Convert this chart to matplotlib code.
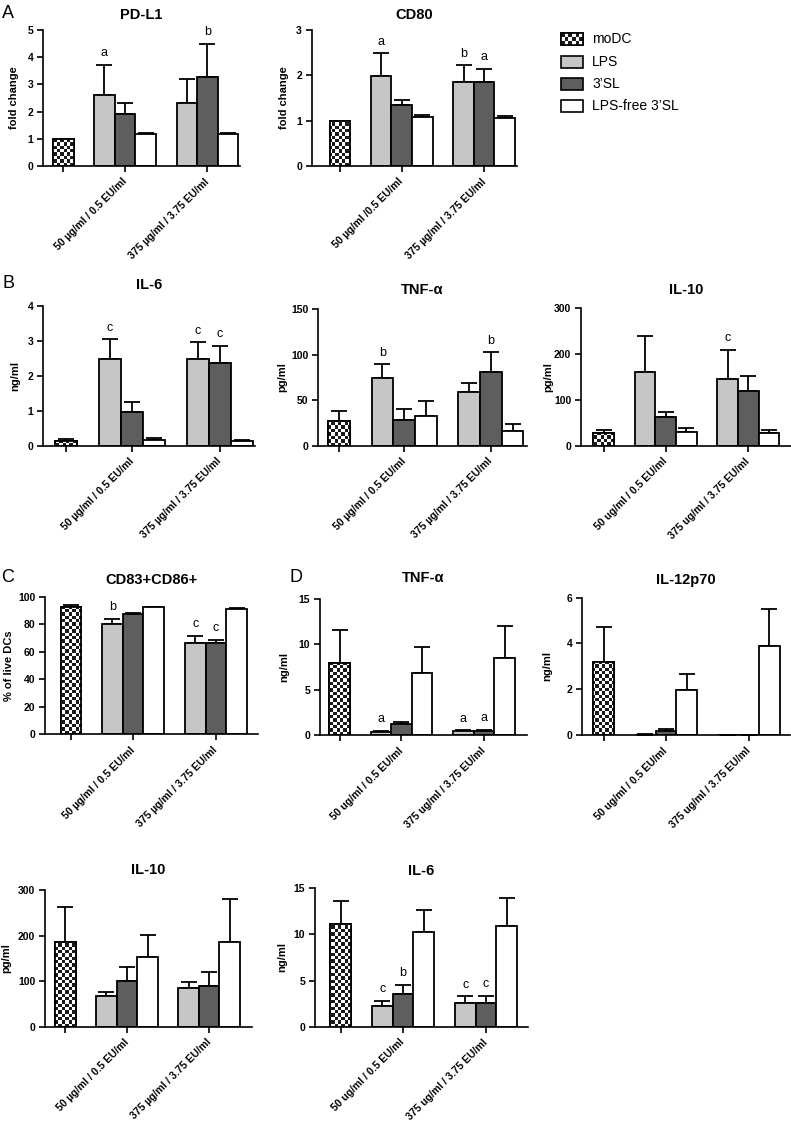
import numpy as np
import matplotlib
matplotlib.use('Agg')
from matplotlib import pyplot as plt
from matplotlib.colors import ListedColormap
from matplotlib.patches import Rectangle
from matplotlib.transforms import blended_transform_factory

plt.rcParams['font.family'] = ['Liberation Sans', 'DejaVu Sans']

W, H = 791, 1127

groups = ['moDC', 'LPS', '3\u2019SL', 'LPS-free 3\u2019SL']
fills = ['white', '#c6c6c6', '#5e5e5e', 'white']
# bar order: moDC, LPS/3'SL/free at 50, LPS/3'SL/free at 375
kinds = [0, 1, 2, 3, 1, 2, 3]
pos = [0, 2, 3, 4, 6, 7, 8]
tick_pos = [0, 3, 7]

lab_mu = ['', '50 \u00b5g/ml / 0.5 EU/ml', '375 \u00b5g/ml / 3.75 EU/ml']
lab_mu2 = ['', '50 \u00b5g/ml /0.5 EU/ml', '375 \u00b5g/ml / 3.75 EU/ml']
lab_u = ['', '50 ug/ml / 0.5 EU/ml', '375 ug/ml / 3.75 EU/ml']

# values (mean and top of error bar)
pdl1_mean = [1.0, 2.62, 1.92, 1.17, 2.30, 3.28, 1.17]
pdl1_top = [1.0, 3.73, 2.31, 1.23, 3.19, 4.50, 1.23]
pdl1_let = ['', 'a', '', '', '', 'b', '']

cd80_mean = [1.0, 1.99, 1.35, 1.09, 1.86, 1.86, 1.05]
cd80_top = [1.0, 2.49, 1.45, 1.12, 2.22, 2.15, 1.11]
cd80_let = ['', 'a', '', '', 'b', 'a', '']

il6b_mean = [0.14, 2.48, 0.95, 0.16, 2.48, 2.37, 0.13]
il6b_top = [0.19, 3.04, 1.24, 0.21, 2.95, 2.86, 0.17]
il6b_let = ['', 'c', '', '', 'c', 'c', '']

tnfb_mean = [27.5, 74.8, 28.6, 32.3, 59.0, 81.0, 16.5]
tnfb_top = [38.5, 89.5, 40.0, 49.0, 68.6, 102.7, 24.2]
tnfb_let = ['', 'b', '', '', '', 'b', '']

il10b_mean = [28.4, 161.7, 62.0, 30.6, 145.7, 120.0, 27.0]
il10b_top = [34.0, 239.6, 73.6, 39.3, 209.8, 152.0, 35.0]
il10b_let = ['', '', '', '', 'c', '', '']

cd83_mean = [92.3, 79.9, 87.2, 92.7, 66.6, 66.6, 90.8]
cd83_top = [93.7, 83.8, 88.4, 92.7, 71.7, 68.8, 91.8]
cd83_let = ['', 'b', '', '', 'c', 'c', '']

tnfd_mean = [7.9, 0.37, 1.18, 6.88, 0.40, 0.40, 8.53]
tnfd_top = [11.58, 0.48, 1.47, 9.67, 0.51, 0.55, 12.0]
tnfd_let = ['', 'a', '', '', 'a', 'a', '']

il12_mean = [3.17, 0.02, 0.16, 1.95, 0.0, 0.01, 3.89]
il12_top = [4.70, 0.03, 0.25, 2.68, 0.0, 0.01, 5.52]
il12_let = ['', '', '', '', '', '', '']

il10d_mean = [185.8, 68.0, 101.0, 153.0, 84.0, 89.0, 185.8]
il10d_top = [262.0, 76.0, 131.7, 201.0, 98.8, 119.0, 279.5]
il10d_let = ['', '', '', '', '', '', '']

il6d_mean = [11.13, 2.28, 3.54, 10.26, 2.60, 2.60, 10.95]
il6d_top = [13.6, 2.78, 4.55, 12.65, 3.29, 3.36, 13.9]
il6d_let = ['', 'c', 'b', '', 'c', 'c', '']

# title, ylabel, mean, top, letters, xlabels, yticks
panels = [
    ('PD-L1', 'fold change', pdl1_mean, pdl1_top, pdl1_let, lab_mu, [0, 1, 2, 3, 4, 5]),
    ('CD80', 'fold change', cd80_mean, cd80_top, cd80_let, lab_mu2, [0, 1, 2, 3]),
    ('IL-6', 'ng/ml', il6b_mean, il6b_top, il6b_let, lab_mu, [0, 1, 2, 3, 4]),
    ('TNF-\u03b1', 'pg/ml', tnfb_mean, tnfb_top, tnfb_let, lab_mu, [0, 50, 100, 150]),
    ('IL-10', 'pg/ml', il10b_mean, il10b_top, il10b_let, lab_u, [0, 100, 200, 300]),
    ('CD83+CD86+', '% of live DCs', cd83_mean, cd83_top, cd83_let, lab_mu, [0, 20, 40, 60, 80, 100]),
    ('TNF-\u03b1', 'ng/ml', tnfd_mean, tnfd_top, tnfd_let, lab_u, [0, 5, 10, 15]),
    ('IL-12p70', 'ng/ml', il12_mean, il12_top, il12_let, lab_u, [0, 2, 4, 6]),
    ('IL-10', 'pg/ml', il10d_mean, il10d_top, il10d_let, lab_mu, [0, 100, 200, 300]),
    ('IL-6', 'ng/ml', il6d_mean, il6d_top, il6d_let, lab_u, [0, 5, 10, 15]),
]

# layout in pixels: left, top, right, bottom, xlim left, xlim right, ylabel x, title y
layout = [
    (43.3, 30, 240, 166, -0.97, 8.58, 14, 15),
    (311.7, 30, 516.7, 166, -1.37, 8.58, 284, 15),
    (43, 305.7, 255, 445.7, -1.05, 8.59, 15, 285),
    (318.3, 309.3, 526.7, 445.7, -0.96, 8.65, 282, 290),
    (581, 308.3, 791, 445.7, -1.10, 9.06, 548, 290),
    (45, 596.7, 258, 734.3, -1.25, 9.03, 9, 580),
    (320, 599, 526.7, 735, -0.95, 9.07, 284, 578),
    (582.3, 597.7, 790, 735, -1.04, 9.00, 547, 580),
    (45, 890, 251.7, 1026.7, -0.99, 9.07, 6, 870),
    (315, 888.3, 528, 1026.7, -1.24, 9.03, 282, 871),
]

check_cmap = ListedColormap(['#1a1a1a', 'white'])


def checker(ax, patch, cell=3.3):
    bb = ax.get_window_extent()
    nx = int(bb.width / cell)
    ny = int(bb.height / cell)
    arr = np.add.outer(np.arange(ny), np.arange(nx)) % 2
    x0, x1 = ax.get_xlim()
    y0, y1 = ax.get_ylim()
    im = ax.imshow(arr, cmap=check_cmap, extent=(x0, x1, y0, y1), aspect='auto',
                   interpolation='nearest', origin='lower', zorder=2.5)
    im.set_clip_path(patch)
    ax.set_xlim(x0, x1)
    ax.set_ylim(y0, y1)


fig = plt.figure(figsize=(W / 100, H / 100), dpi=100)

for (title, ylab, mean, top, lets, xlabs, yt), (l, t, r, b, xl0, xl1, ylx, ty) in zip(panels, layout):
    ax = fig.add_axes([l / W, 1 - b / H, (r - l) / W, (b - t) / H])
    ax.set_xlim(xl0, xl1)
    ax.set_ylim(yt[0], yt[-1])
    cols = [fills[k] for k in kinds]
    bars = ax.bar(pos, mean, width=1.0, color=cols, edgecolor='black', linewidth=1.3, zorder=2)
    checker(ax, bars[0])
    ax.bar(pos[0], mean[0], width=1.0, fill=False, edgecolor='black', linewidth=1.3, zorder=3)
    err = np.array(top) - np.array(mean)
    ax.errorbar(pos, mean, yerr=[np.zeros(len(err)), err], fmt='none', ecolor='black',
                elinewidth=1.3, capsize=6, capthick=1.3, zorder=1.5)
    for p, tp, s in zip(pos, top, lets):
        if s:
            ax.annotate(s, (p, tp), xytext=(0, 4), textcoords='offset points',
                        ha='center', va='bottom', fontsize=9)
    for sp in ['top', 'right']:
        ax.spines[sp].set_visible(False)
    for sp in ['left', 'bottom']:
        ax.spines[sp].set_linewidth(1.2)
    ax.set_yticks(yt)
    ax.set_yticklabels([str(v) for v in yt], fontsize=7.5, fontweight='bold')
    ax.set_xticks(tick_pos)
    ax.set_xticklabels(xlabs, rotation=45, ha='right', va='center', rotation_mode='anchor',
                       fontsize=7.5, fontweight='bold')
    ax.tick_params(axis='both', direction='out', length=4, width=1.2, pad=3)
    ax.tick_params(axis='x', pad=6)
    ax.set_ylabel(ylab, fontsize=8, fontweight='bold', va='center')
    ax.yaxis.set_label_coords(ylx / W, 0.5,
                              transform=blended_transform_factory(fig.transFigure, ax.transAxes))
    fig.text((l + r) / 2 / W, 1 - ty / H, title, ha='center', va='center',
             fontsize=10.5, fontweight='bold')

# panel letters
for s, x, y in [('A', 8, 14), ('B', 8, 283), ('C', 8, 578), ('D', 296, 578)]:
    fig.text(x / W, 1 - y / H, s, ha='center', va='center', fontsize=13)

# legend drawn by hand so the checkerboard shows
lax = fig.add_axes([550 / W, 1 - 125 / H, 200 / W, 110 / H])
lax.set_xlim(550, 750)
lax.set_ylim(125, 15)
lax.axis('off')
rows = [39, 62, 84, 106]
for i, (g, c) in enumerate(zip(groups, fills)):
    y = rows[i]
    rect = Rectangle((561, y - 6), 22, 12, facecolor=c, edgecolor='black', linewidth=1.2, zorder=2)
    lax.add_patch(rect)
    if i == 0:
        arr = np.add.outer(np.arange(3), np.arange(6)) % 2
        im = lax.imshow(arr, cmap=check_cmap, extent=(561, 583, y + 6, y - 6), aspect='auto',
                        interpolation='nearest', zorder=2.5)
        im.set_clip_path(rect)
        lax.add_patch(Rectangle((561, y - 6), 22, 12, fill=False, edgecolor='black',
                                linewidth=1.2, zorder=3))
    lax.text(592, y, g, ha='left', va='center', fontsize=10)
lax.set_xlim(550, 750)
lax.set_ylim(125, 15)

fig.savefig('out.png', dpi=100)
